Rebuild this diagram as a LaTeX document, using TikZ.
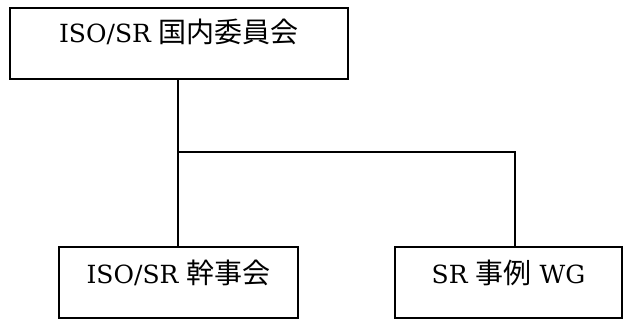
\documentclass[tikz,border=0pt]{standalone}
\usepackage{fontspec}
\setmainfont{DejaVu Serif}
\newfontfamily\cjk[Scale=1.12]{Noto Sans CJK JP}
\usepackage{tikz}
\usetikzlibrary{positioning,calc}

\begin{document}
\begin{tikzpicture}[
    x=1pt, y=-1pt,
    every node/.style={font=\fontsize{25}{29}\selectfont},
    org/.style={rectangle, draw, line width=1.4pt, inner sep=0pt,
                minimum height=71pt, text height=17pt, text depth=14pt},
    link/.style={line width=1.4pt},
]
\useasboundingbox (0,0) rectangle (625,320);

% Nodes
\node[org, minimum width=338pt, text depth=18pt] (council) at (179,43.5) {ISO/SR {\cjk 国内委員会}};
\node[org, minimum width=239pt] (exec) at (178.5,282.5) {ISO/SR {\cjk 幹事会}};
\node[org, minimum width=227pt] (wg)   at (508.5,282.5) {SR {\cjk 事例} WG};

% Junction
\coordinate (split) at (178,152);

% Connectors
\draw[link] (council.south -| split) -- (exec.north -| split);
\draw[link] (split) -| ($(wg.north)+(6.5,0)$);
\end{tikzpicture}
\end{document}
